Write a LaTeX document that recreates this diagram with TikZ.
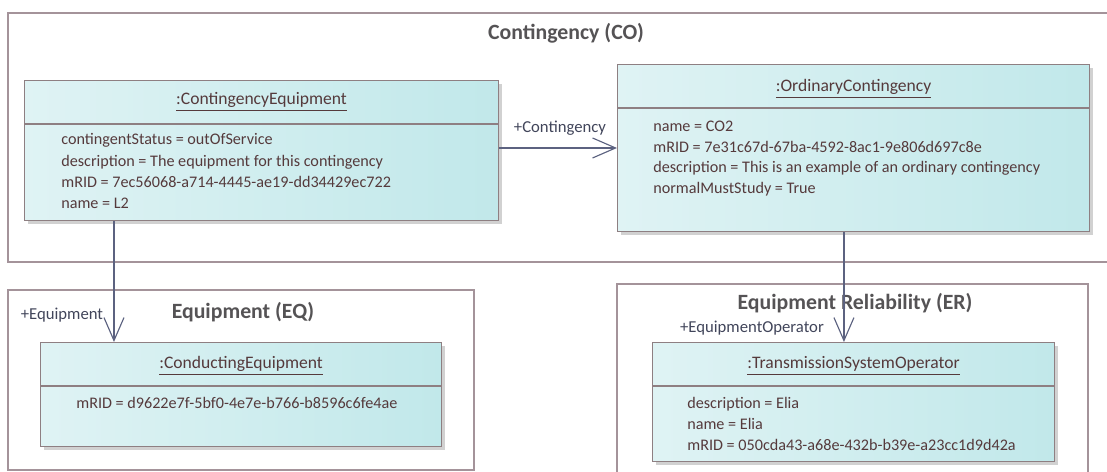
\documentclass[tikz,border=0pt]{standalone}
\usepackage{fontspec}
\setmainfont{Carlito}
\usetikzlibrary{positioning, arrows.meta, shadows, calc}

\definecolor{framecol}{HTML}{A4939A}
\definecolor{boxcol}{HTML}{8E7F82}
\definecolor{boxleft}{HTML}{DFF3F4}
\definecolor{boxright}{HTML}{C1E8EA}
\definecolor{txtcol}{HTML}{553A3C}
\definecolor{headcol}{HTML}{555355}
\definecolor{linkcol}{HTML}{5C6280}

\tikzset{
	pkgframe/.style={draw=framecol, line width=0.7pt},
	pkgtitle/.style={font=\bfseries\fontsize{12.4}{14}\selectfont, text=headcol},
	objbox/.style={draw=boxcol, line width=0.7pt, rectangle, inner sep=0pt, anchor=north west,
		left color=boxleft, right color=boxright, shading=axis,
		drop shadow={shadow xshift=0.06cm, shadow yshift=-0.06cm, fill=black!18, opacity=1}},
	objname/.style={font=\fontsize{10}{12}\selectfont, text=txtcol},
	slot/.style={anchor=base west, inner sep=0pt, font=\fontsize{9.2}{12}\selectfont, text=txtcol},
	role/.style={inner sep=0pt, font=\fontsize{9.5}{12}\selectfont, text=linkcol!70!black},
	assoc/.style={draw=linkcol, line width=0.65pt,
		-{Straight Barb[length=0.46cm, width=0.4cm, line width=0.65pt]}}
}

\begin{document}
\begin{tikzpicture}[x=0.02cm, y=-0.02cm]
		
		\clip (0,0) rectangle (1107,472);
		
		%Packages
		\draw[pkgframe] (8,13) rectangle (1120,262);
		\node[pkgtitle] (coTitle) at (566,33) {Contingency (CO)};
		\draw[pkgframe] (8,290) rectangle (474,470);
		\node[pkgtitle] (eqTitle) at (243,312) {Equipment (EQ)};
		\draw[pkgframe] (617,284) rectangle (1088,495);
		\node[pkgtitle] (erTitle) at (855,303) {Equipment Reliability (ER)};
		
		%Objects
		\node[objbox, minimum width=9.48cm, minimum height=2.8cm] (ce) at (24,80) {};
		\node[objbox, minimum width=9.44cm, minimum height=3.34cm] (oc) at (617,64) {};
		\node[objbox, minimum width=8.02cm, minimum height=2.08cm] (cond) at (40,342) {};
		\node[objbox, minimum width=8.04cm, minimum height=2.38cm] (tso) at (652,342) {};
		
		%Compartments
		\foreach \b in {ce, oc, cond, tso}
		\draw[boxcol, line width=0.7pt] ([yshift=-0.88cm]\b.north west) -- ([yshift=-0.88cm]\b.north east);
		
		%Object names
		\node[objname] (ceName) at ([yshift=-0.44cm]ce.north) {\underline{:ContingencyEquipment}};
		\node[objname] (ocName) at ([yshift=-0.5cm]oc.north) {\underline{:OrdinaryContingency}};
		\node[objname] (condName) at ([yshift=-0.48cm]cond.north) {\underline{:ConductingEquipment}};
		\node[objname] (tsoName) at ([yshift=-0.48cm]tso.north) {\underline{:TransmissionSystemOperator}};
		
		%Slots
		\foreach \t [count=\i] in {contingentStatus = outOfService,
			description = The equipment for this contingency,
			mRID = 7ec56068-a714-4445-ae19-dd34429ec722, name = L2}
		\node[slot] (ceSlot\i) at (61,{145+21.2*(\i-1)}) {\t};
		\foreach \t [count=\i] in {name = CO2, mRID = 7e31c67d-67ba-4592-8ac1-9e806d697c8e,
			description = This is an example of an ordinary contingency, normalMustStudy = True}
		\node[slot] (ocSlot\i) at (653,{132+20.4*(\i-1)}) {\t};
		\node[slot] (condSlot1) at (76,409) {mRID = d9622e7f-5bf0-4e7e-b766-b8596c6fe4ae};
		\foreach \t [count=\i] in {description = Elia, name = Elia,
			mRID = 050cda43-a68e-432b-b39e-a23cc1d9d42a}
		\node[slot] (tsoSlot\i) at (687,{409+21*(\i-1)}) {\t};
		
		%Links
		\draw[assoc] ([yshift=-1.36cm]ce.north east) -- ([yshift=-1.36cm]ce.north east -| oc.west);
		\node[role] (ocRole) at (560,128) {+Contingency};
		\draw[assoc] ([xshift=1.8cm]ce.south west) -- ([xshift=1.8cm]ce.south west |- cond.north);
		\node[role] (condRole) at (62,315) {+Equipment};
		\draw[assoc] ([xshift=4.54cm]oc.south west) -- ([xshift=4.54cm]oc.south west |- tso.north);
		\node[role] (tsoRole) at (752,328) {+EquipmentOperator};
		
\end{tikzpicture}
\end{document}
